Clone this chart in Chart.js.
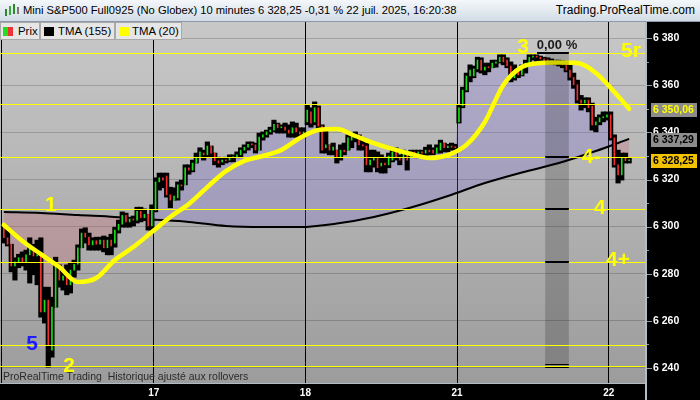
<!DOCTYPE html>
<html><head><meta charset="utf-8">
<script src="https://cdn.jsdelivr.net/npm/chart.js@4/dist/chart.umd.min.js"></script>
<style>
html,body{margin:0;padding:0;background:#000;width:700px;height:400px;overflow:hidden;font-family:"Liberation Sans",Arial,sans-serif;}
#top{position:absolute;left:0;top:0;width:700px;height:21px;background:linear-gradient(#f4f7fa,#d2dce6);border-bottom:1px solid #8b99a8;}
#t1{position:absolute;left:23px;top:4px;font-size:11.2px;color:#000;white-space:nowrap;}
#t2{position:absolute;right:5px;top:3px;font-size:12px;color:#000;white-space:nowrap;}
.ic{position:absolute;width:2px;background:#2a8a2a;}
#wrap{position:absolute;left:0;top:22px;width:700px;height:378px;}
.lg{position:absolute;top:22px;height:16px;background:#e6e6e6;border:1px solid #a9a9a9;font-size:11.4px;line-height:16px;color:#000;white-space:nowrap;box-sizing:content-box;}
.sw{position:absolute;top:4px;width:10px;height:9px;}
#foot{position:absolute;left:3px;top:370px;font-size:10.5px;color:#2b2b2b;white-space:pre;}
</style></head>
<body>
<div id="top">
  <div class="ic" style="left:5px;top:9px;height:7px"></div>
  <div class="ic" style="left:9px;top:6px;height:9px;background:#3aa83a"></div>
  <div class="ic" style="left:13px;top:4px;height:10px"></div>
  <div class="ic" style="left:17px;top:7px;height:7px;background:#7a7a7a"></div>
  <span id="t1">Mini S&amp;P500 Full0925 (No Globex) 10 minutes 6 328,25 -0,31 % 22 juil. 2025, 16:20:38</span>
  <span id="t2">Trading.ProRealTime.com</span>
</div>
<div id="wrap"><canvas id="c" width="700" height="378"></canvas></div>
<div class="lg" style="left:0;width:38px"><span class="sw" style="left:2px;width:5px;background:#22dd22"></span><span class="sw" style="left:7px;width:5px;background:#ee3333"></span><span style="position:absolute;left:17px">Prix</span></div>
<div class="lg" style="left:40px;width:73px"><span class="sw" style="left:3px;background:#000"></span><span style="position:absolute;left:17px">TMA (155)</span></div>
<div class="lg" style="left:115px;width:65px"><span class="sw" style="left:3px;background:#ffff00"></span><span style="position:absolute;left:16px">TMA (20)</span></div>
<div id="foot">ProRealTime Trading  Historique ajusté aux rollovers</div>
<script>
// ---------- data (10-minute bars, 16 → 22 July) ----------
const OPEN = [6299.5,6295.25,6292.5,6283.25,6285,6286.75,6285,6288,6291,6287.5,6288,6263.75,6268.75,6247.5,6265.75,6283.75,6277.25,6279,6275.25,6281.5,6284,6291,6297.25,6295.5,6292.25,6294,6292.5,6294.25,6291,6294.25,6293,6298.5,6301,6304.75,6302,6303.25,6302.75,6306.5,6303.75,6305.25,6300.25,
6307,6319,6320.75,6321.5,6313.5,6311.25,6312.25,6317.75,6317.75,6325,6324,6327,6329.5,6331.25,6330.5,6334.25,6331.25,6328,6327.5,6328.25,6328.25,6329.25,6329.5,6330.5,6332.5,6333.75,6335,6334.75,6332.5,6338,6339,6340.25,6341,6343.5,6342,6342.25,6341,6339.75,6342,6340.25,6339.25,
6344.5,6348.75,6344.5,6350.5,6342.75,6333.5,6334.75,6332.5,6332.5,6329.25,6332.5,6332.5,6336.75,6338,6339,6334.75,6334.25,6326.25,6328.25,6329.25,6325.75,6327,6326.25,6328.25,6331.75,6329.25,6329.25,6331.25,6329.5,6331.75,6330.5,6331.75,6331.25,6332.5,6332.5,6331.25,6332.5,6335.5,6333.5,6334.25,6333.75,
6344.5,6351.25,6358,6364,6364,6367,6370.75,6366.5,6367.75,6367.5,6369.5,6370,6372,6370.75,6368.25,6363.25,6366.5,6364.5,6367.5,6369.5,6372,6372.5,6372,6371.25,6370.75,6370.5,6370,6370,6369.5,6368.75,6366.5,6363.5,6360.25,6353.75,6352.5,6353.75,6351.25,6343.25,6344.5,6346.25,6346.5,
6347.5,6337.75,6326.25,6322,6329.25,6328];
const HIGH = [6300.25,6298.5,6292.5,6286.75,6288.25,6289.25,6290,6295.25,6292.5,6294.25,6295.25,6274.25,6274.25,6270,6287,6283.75,6280.75,6283.75,6284.5,6285.75,6292.25,6299,6299.5,6297.25,6295.25,6295.5,6295.5,6296,6295.5,6296.75,6299.75,6302.75,6306.25,6305.75,6304,6304.5,6308.25,6308.25,6307.5,6305.25,6309.25,
6320.75,6322.75,6322.75,6322.75,6316.75,6316.5,6319,6319.75,6326.25,6326.25,6328.25,6331.25,6333.5,6332.5,6336,6334.25,6331.25,6329.5,6329.25,6329.5,6330.5,6330.5,6331.75,6333.5,6334.75,6336,6336,6335.5,6339.75,6340.25,6341,6342.25,6345.25,6344,6343.25,6344,6343.25,6344.5,6344,6342,6342,
6351.75,6350.5,6353,6351.25,6343.25,6341,6334.75,6335.5,6332.5,6334.75,6335.5,6339,6339.75,6340.25,6339,6337.75,6335.5,6332.5,6332.5,6331.75,6330.5,6329.5,6331.25,6332.5,6333.5,6330.5,6332.5,6331.75,6332.5,6332.5,6332.5,6332.5,6333.75,6334.75,6333.5,6334.75,6336.75,6335.5,6335,6335.5,6335,
6351.75,6359.25,6365.25,6368.75,6368.25,6372,6371.75,6369.5,6369.5,6370.75,6370.75,6373,6373,6371.75,6370,6368.75,6367.5,6368.75,6370.75,6373,6373,6373,6372.5,6372,6371.75,6371.25,6370.75,6370.75,6370.5,6370,6368.75,6365.25,6362.25,6355.75,6354.75,6354.75,6352.5,6346.5,6347.5,6348.75,6348.75,
6348.75,6339,6332.5,6331.25,6331.25,6329.25];
const LOW = [6293,6291.75,6280.75,6277.25,6282.5,6283.25,6281.5,6276,6279.5,6275.25,6261.5,6259,6240.25,6244.5,6265.75,6274.25,6273,6271,6271.75,6278.5,6281.5,6291,6293,6290,6290,6290,6290,6289.25,6288,6288,6291.25,6297.25,6299.75,6299.75,6299.75,6300.25,6301.5,6302,6302.5,6298.5,6298.5,
6306.25,6315.5,6316.5,6312.5,6308,6311.25,6311.25,6315.5,6317.75,6322.25,6323.25,6327,6329.25,6328.25,6329.5,6329.25,6326.25,6325.25,6326.25,6327,6327.5,6327.5,6329.25,6329.25,6331.25,6332.5,6333.5,6331.25,6332.5,6336.75,6338,6339.25,6340.25,6339.75,6339.75,6339.75,6338,6338,6338,6337.75,6337.75,
6343.25,6342.25,6343.25,6341,6331.25,6331.25,6330.5,6330.5,6327,6328.25,6330.5,6332.5,6333.5,6336,6332.5,6332.5,6323.25,6323.25,6325.25,6323.25,6322.75,6322.75,6325,6327.5,6328.25,6326.25,6329.25,6324,6329.5,6329.25,6329.25,6329.5,6329.5,6330.5,6330.5,6331.25,6331.25,6331.75,6331.75,6332.5,6332,
6344,6350.5,6357.25,6361.5,6363.25,6365.75,6365.25,6364.5,6365.75,6367.5,6367.75,6369.5,6368.75,6367.5,6361.5,6362.25,6363.25,6364,6365.25,6368.75,6370.75,6370,6370,6369.5,6369,6369,6368.75,6368.25,6367.5,6365.75,6362.25,6358.75,6352.5,6349.5,6350.5,6348.75,6341,6340.25,6343.25,6344.5,6345.25,
6336.75,6325.25,6318.5,6319.75,6327,6327];
const CLOSE = [6295.25,6292.5,6283.25,6285,6286.75,6285,6288,6291,6287.5,6288,6263.75,6268.75,6249.75,6265.75,6283.75,6277.25,6279,6275.25,6281.5,6284,6291,6297.25,6295.5,6292.25,6294,6292.5,6294.25,6291,6294.25,6291.75,6298.5,6301,6304.75,6302,6303.25,6302.75,6306.5,6303.75,6305.25,6300.25,6307,
6319,6320.75,6319.75,6313.5,6311.25,6313,6317.75,6317.25,6325,6324,6327,6329.5,6331.75,6330.5,6334.25,6331.25,6328,6327,6328.25,6328,6329.25,6329.5,6330.5,6332.5,6333.75,6335,6334.75,6332.5,6338,6339,6340.25,6341,6343.5,6342,6342.25,6341,6339.75,6342,6340.25,6339.25,6340.25,
6349.5,6344,6350.5,6342.75,6332.5,6334.75,6332.5,6333.75,6329.25,6332.5,6331.75,6337.75,6338,6339,6334.75,6334.25,6326.25,6328.25,6329.25,6325,6327,6326.25,6330,6331.75,6329.25,6328.25,6331.25,6328.25,6331.75,6330.5,6331.75,6331.25,6332.5,6331.75,6331.25,6333.5,6335.5,6333.5,6334.25,6333.75,6333.5,
6350.5,6358,6364,6366.5,6367,6370.75,6366.5,6367.75,6367.5,6369.5,6370,6372,6370,6368.25,6363.25,6365.75,6364.5,6367.5,6369.5,6372,6372.5,6372,6371.25,6370.75,6370.5,6370,6370,6369.5,6368.75,6366.5,6363.5,6360.25,6353.75,6352.5,6353.75,6350.5,6343.25,6344.5,6346.25,6346.5,6347.5,
6337.75,6326.25,6322,6329.25,6328,6328.25];
// indicator readings (bar index → value)
const TMA155_AT = [0,10,20,30,40,50,60,70,80,90,100,110,120,130,140,150,160,169];
const TMA155 = [6306.2,6305.8,6304.9,6304.1,6303.0,6302.0,6300.25,6299.8,6299.8,6301.3,6304.1,6308.1,6313.0,6318.5,6323.0,6327.0,6332.1,6337.29];
const TMA20_AT = [0,5,10,15,20,25,30,35,40,45,50,55,60,65,70,75,80,85,90,95,100,105,110,115,120,125,130,135,140,145,150,155,160,165,169];
const TMA20 = [6300.7,6293.9,6288.3,6282.8,6276.45,6278.15,6285.8,6291.3,6297.7,6304.1,6309.6,6316.8,6323.6,6327.9,6330,6332.55,6337.65,6341.05,6341.45,6338.5,6335.5,6333,6330.85,6329.15,6330.4,6334.7,6344.45,6360.2,6367.8,6369.5,6369.7,6369.5,6365.3,6357.2,6350.06];
// axes
const DAY_AT = [-0.5,40.5,81.5,122.5,163.5];
const DAY_LABELS = ['','17','18','21','22'];
const Y_TICKS = [6240,6260,6280,6300,6320,6340,6360,6380];
const X_MIN = -1.04, X_MAX = 173.55, Y_MIN = 6233.53, Y_MAX = 6386.95;
// drawn levels & notes
const LEVELS = [6373.6,6352.0,6329.45,6307.3,6284.8,6249.5,6240.75];
const MEASURE_LEVELS = [6329.45,6307.3,6284.8];
const NOTE_TEXT = ['1','2','3','4-','4','4+','5r','5'];
const NOTE_BAR = [12.7,17.6,140.3,158.7,161.1,166,169.5,7.6];
const NOTE_PRICE = [6308.95,6240.75,6376.1,6329.6,6307.9,6285.8,6374.6,6249.9];
const MEASURE_FROM = 146.3, MEASURE_TO = 152.7, MEASURE_TOP = 6373.6, MEASURE_BOTTOM = 6240.75;
const LAST_TMA20 = 6350.06, LAST_TMA155 = 6337.29, LAST_PRICE = 6328.25;

const FONT = '"Liberation Sans", Arial, sans-serif';
const fmtTick = v => { const s = String(Math.round(v)); return s[0] + ' ' + s.slice(1); };
const fmtPrice = v => { const s = v.toFixed(2).replace('.', ','); return s[0] + ' ' + s.slice(1); };

const plug = {
  id: 'prt',
  beforeDraw(chart) {
    const {ctx, chartArea: a} = chart;
    ctx.save();
    ctx.fillStyle = '#000'; ctx.fillRect(0, 0, chart.width, chart.height);
    const g = ctx.createLinearGradient(0, a.top, 0, a.bottom);
    g.addColorStop(0, '#c8c8c8'); g.addColorStop(1, '#9c9c9c');
    ctx.fillStyle = g; ctx.fillRect(a.left, a.top, a.right - a.left, a.bottom - a.top);
    ctx.restore();
  },
  afterDatasetsDraw(chart) {
    const {ctx, chartArea: a, scales: {x, y}} = chart;
    ctx.save();
    ctx.beginPath(); ctx.rect(a.left, a.top, a.right - a.left, a.bottom - a.top); ctx.clip();
    // measurement band
    const bx0 = x.getPixelForValue(MEASURE_FROM), bx1 = x.getPixelForValue(MEASURE_TO);
    const by0 = y.getPixelForValue(MEASURE_TOP), by1 = y.getPixelForValue(MEASURE_BOTTOM);
    ctx.fillStyle = 'rgba(0,0,0,0.18)';
    ctx.fillRect(bx0, by0, bx1 - bx0, by1 - by0);
    // horizontal levels
    ctx.strokeStyle = '#ffff00'; ctx.lineWidth = 1;
    LEVELS.forEach(p => { const py = Math.round(y.getPixelForValue(p)) + 0.5; ctx.beginPath(); ctx.moveTo(a.left, py); ctx.lineTo(a.right, py); ctx.stroke(); });
    // measurement lines
    ctx.fillStyle = '#000';
    const lx = x.getPixelForValue(144.1);
    ctx.fillRect(lx, Math.round(by0) - 1, bx1 - lx, 2);
    MEASURE_LEVELS.forEach(p => ctx.fillRect(bx0, Math.round(y.getPixelForValue(p)) - 1, bx1 - bx0, 2));
    ctx.fillRect(bx0, Math.round(by1) - 2, bx1 - bx0, 1);
    ctx.fillRect(bx0, Math.round(by1) + 1, bx1 - bx0, 1);
    // notes
    ctx.textAlign = 'center'; ctx.textBaseline = 'middle';
    ctx.font = 'bold 21px ' + FONT;
    NOTE_TEXT.forEach((t, i) => {
      ctx.fillStyle = t === '5' ? '#1c1cff' : '#ffff00';
      ctx.fillText(t, x.getPixelForValue(NOTE_BAR[i]), y.getPixelForValue(NOTE_PRICE[i]));
    });
    ctx.font = 'bold 13px ' + FONT; ctx.fillStyle = '#1a1a1a';
    ctx.fillText('0,00 %', (bx0 + bx1) / 2, y.getPixelForValue(6377.2));
    ctx.restore();
  },
  afterDraw(chart) {
    const {ctx, chartArea: a, scales: {y}} = chart;
    ctx.save();
    // axis tick marks
    ctx.strokeStyle = '#9a9a9a'; ctx.lineWidth = 1;
    for (let v = 6240; v <= 6380; v += 10) {
      const py = Math.round(y.getPixelForValue(v)) + 0.5;
      ctx.beginPath(); ctx.moveTo(a.right, py); ctx.lineTo(a.right + (v % 20 === 0 ? 6 : 3), py); ctx.stroke();
    }
    // borders
    ctx.fillStyle = '#b3bcc5';
    ctx.fillRect(a.right - 1, 0, 2, chart.height);
    ctx.fillRect(0, a.bottom, a.right, 1);
    // value boxes
    const box = (v, bg, fg) => {
      const py = Math.round(y.getPixelForValue(v)) + 1;
      ctx.fillStyle = bg; ctx.fillRect(651, py - 7, 46, 14);
      ctx.fillStyle = fg; ctx.font = 'bold 10.5px ' + FONT;
      ctx.textAlign = 'left'; ctx.textBaseline = 'middle';
      ctx.fillText(fmtPrice(v), 653, py + 0.5);
    };
    box(LAST_TMA20, '#8c8c8c', '#ffff00');
    box(LAST_TMA155, '#8e8e8e', '#000');
    box(LAST_PRICE, '#f2c200', '#000');
    ctx.restore();
  }
};

const bodyColors = CLOSE.map((c, i) => c >= OPEN[i] ? '#18e018' : '#f03030');

new Chart(document.getElementById('c'), {
  type: 'bar',
  data: {
    datasets: [
      { type: 'line', data: CLOSE.map((c, i) => ({x: i, y: c})), borderWidth: 0, borderColor: 'rgba(0,0,0,0)', pointRadius: 0, tension: 0,
        fill: {target: 1, above: 'rgba(118,104,214,0.27)', below: 'rgba(205,100,112,0.27)'}, order: 5 },
      { type: 'line', data: TMA155_AT.map((b, k) => ({x: b, y: TMA155[k]})), borderColor: '#000', borderWidth: 2, pointRadius: 0,
        cubicInterpolationMode: 'monotone', fill: false, order: 4 },
      { type: 'bar', data: HIGH.map((h, i) => ({x: i, y: [LOW[i], h]})), backgroundColor: '#000', barThickness: 4.5, grouped: false, order: 3 },
      { type: 'bar', data: OPEN.map((o, i) => ({x: i, y: [o, CLOSE[i]]})), backgroundColor: bodyColors, barThickness: 1, minBarLength: 1, grouped: false, order: 2 },
      { type: 'line', data: TMA20_AT.map((b, k) => ({x: b, y: TMA20[k]})), borderColor: '#ffff00', borderWidth: 4.5, pointRadius: 0,
        cubicInterpolationMode: 'monotone', fill: false, order: 1, borderCapStyle: 'round' }
    ]
  },
  options: {
    responsive: false, animation: false, devicePixelRatio: 1,
    layout: {padding: 0},
    plugins: {legend: {display: false}, tooltip: {enabled: false}, title: {display: false}},
    scales: {
      x: {
        type: 'linear', min: X_MIN, max: X_MAX, offset: false, position: 'bottom',
        grid: {color: '#000', lineWidth: 1, drawTicks: false, offset: false},
        border: {display: false},
        afterBuildTicks: s => { s.ticks = DAY_AT.map(v => ({value: v})); },
        afterFit: s => { s.height = 17; s.paddingLeft = 0; s.paddingRight = 0; },
        ticks: {autoSkip: false, maxRotation: 0, color: '#fff', padding: 4,
          font: {family: FONT, size: 10, weight: 'bold'}, callback: (v, i) => DAY_LABELS[i]}
      },
      y: {
        type: 'linear', position: 'right', min: Y_MIN, max: Y_MAX,
        grid: {color: 'rgba(0,0,0,0.18)', drawTicks: false},
        border: {display: false},
        afterBuildTicks: s => { s.ticks = Y_TICKS.map(v => ({value: v})); },
        afterFit: s => { s.width = 54; s.paddingTop = 0; s.paddingBottom = 0; },
        ticks: {color: '#fff', padding: 7, font: {family: FONT, size: 10.5, weight: 'bold'}, callback: v => fmtTick(v)}
      }
    }
  },
  plugins: [plug]
});
</script>
</body></html>
